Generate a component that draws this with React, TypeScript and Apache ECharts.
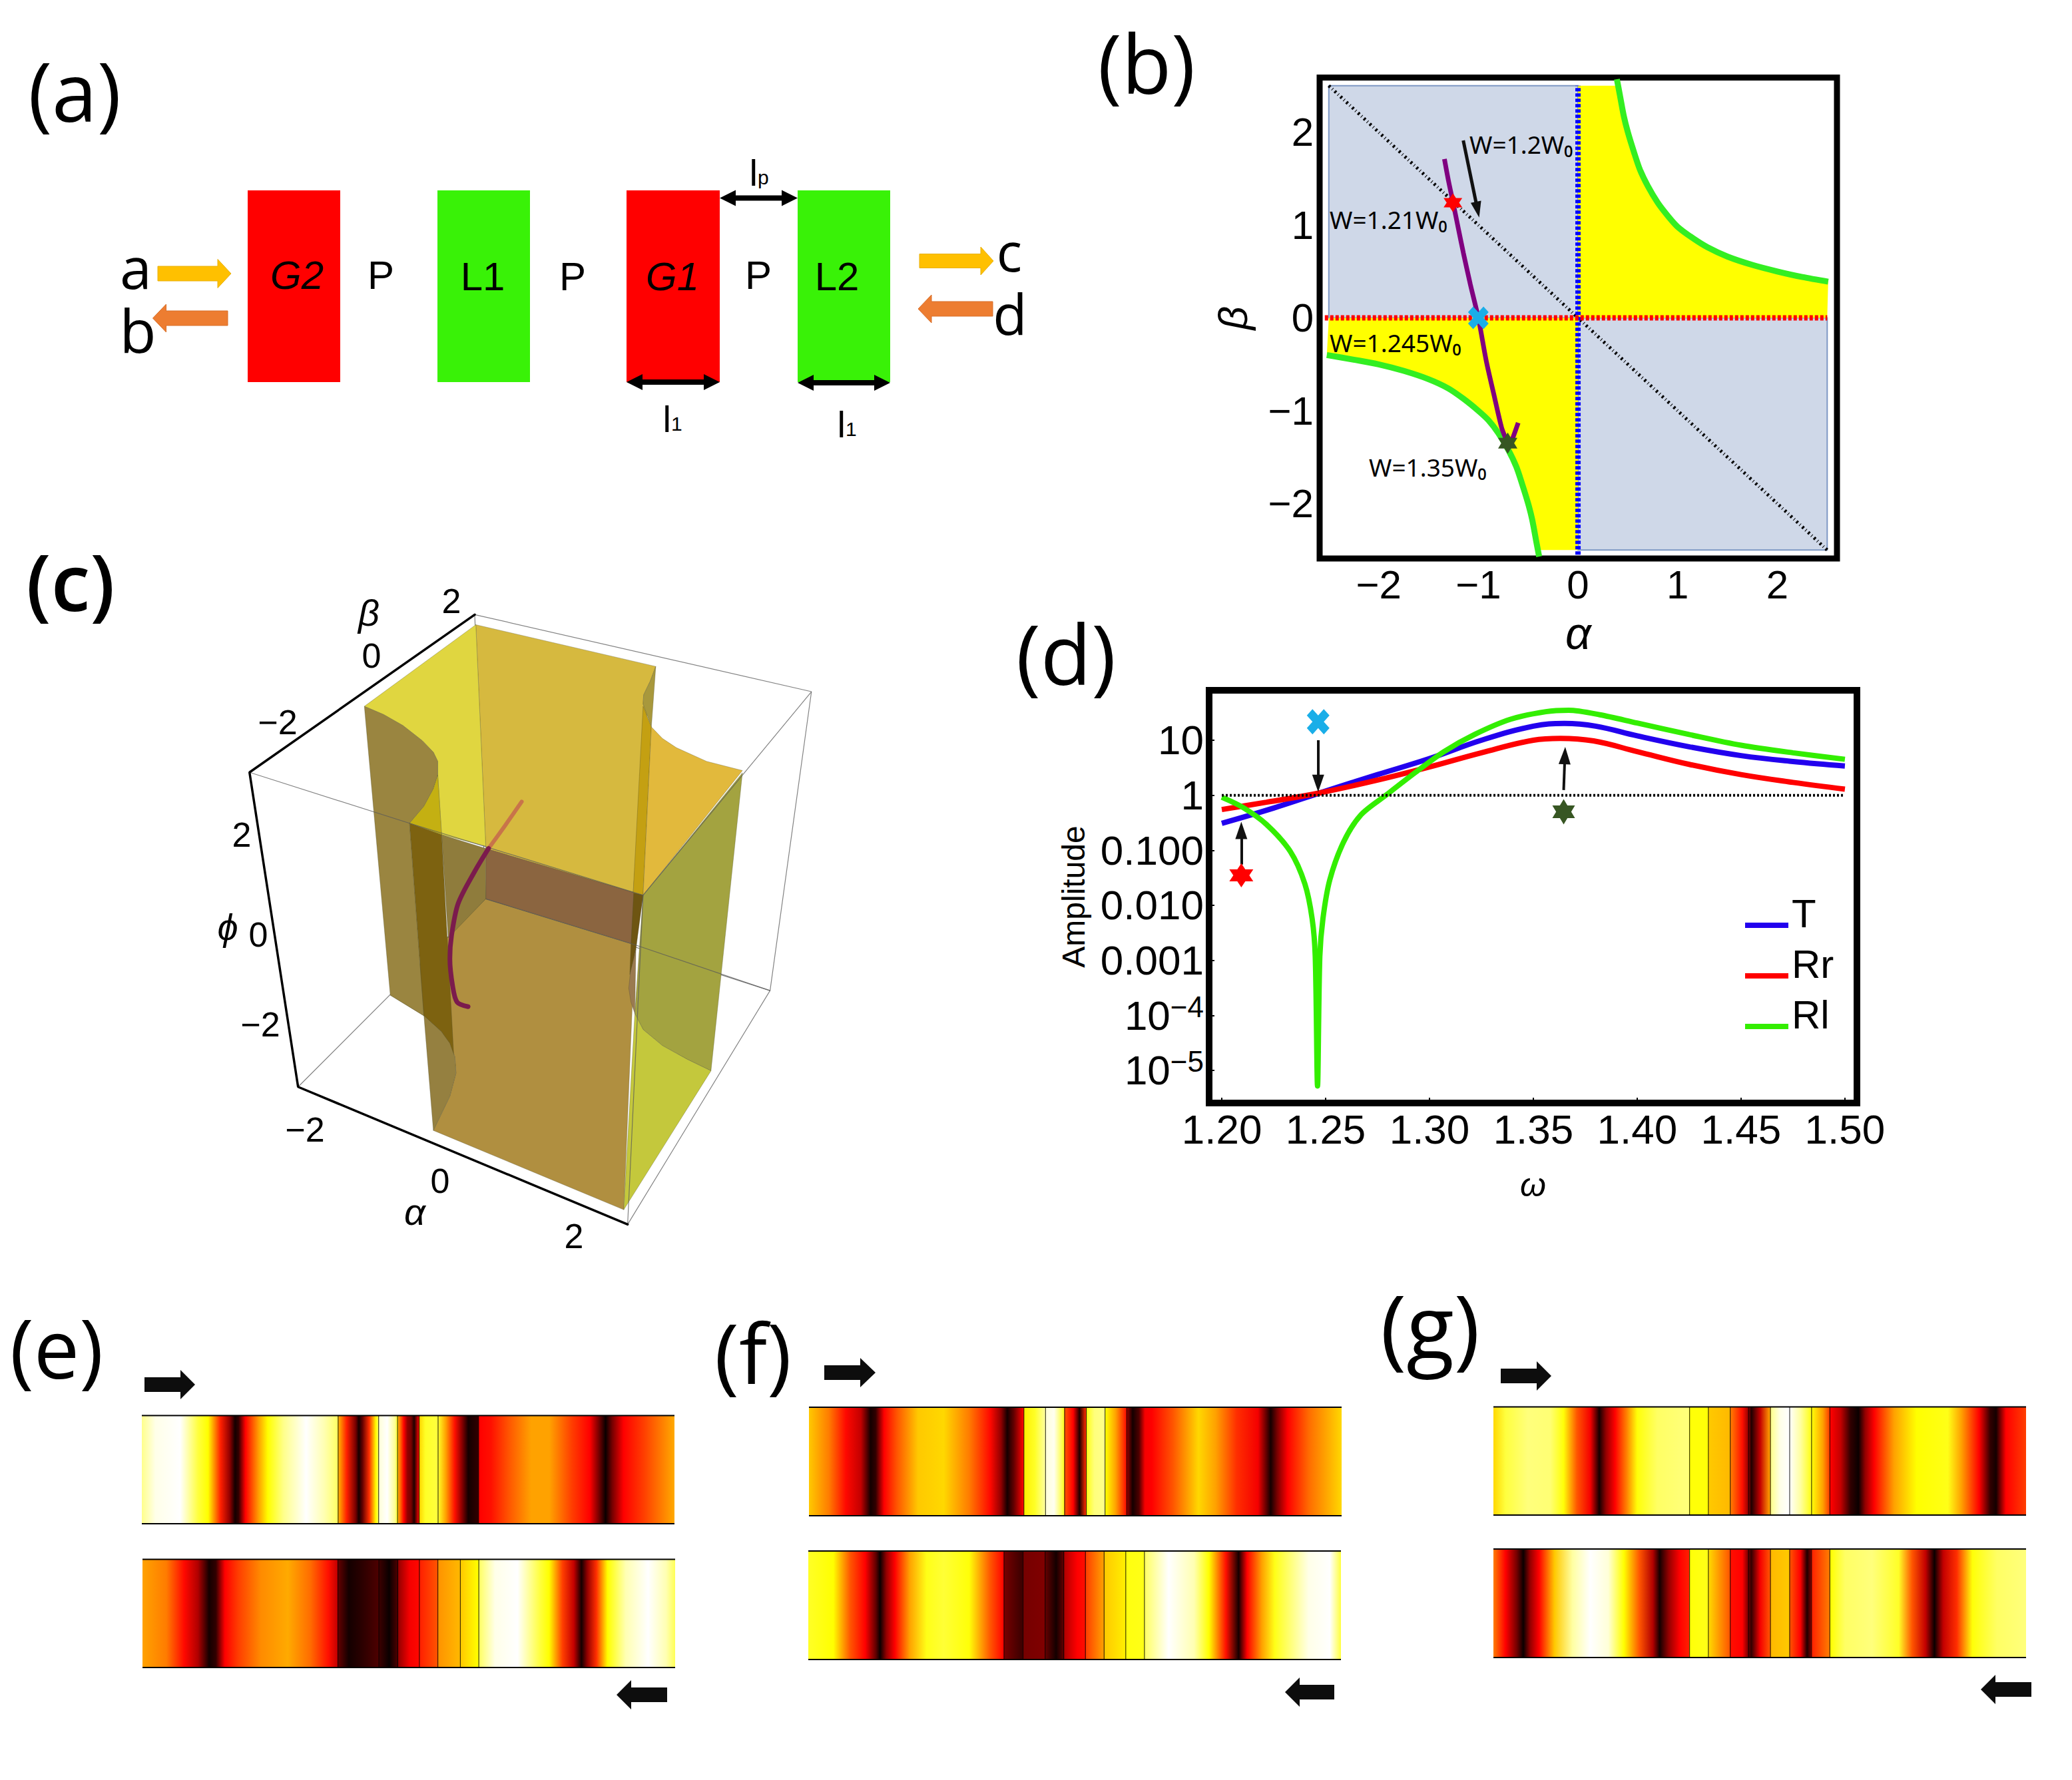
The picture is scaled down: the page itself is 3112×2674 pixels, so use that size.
import React, { useEffect, useRef } from "react";
import * as echarts from "echarts";

const W = 3112;
const H = 2674;
const SANS = "'Liberation Sans'";
const OPEN = "'Open Sans'";

// ---------- panel (b) ----------
const bTicks = [-2, -1, 0, 1, 2];
const bBlueA = [[-2.5, 0], [0, 0], [0, 2.5], [-2.5, 2.5]];
const bBlueB = [[0, 0], [2.5, 0], [2.5, -2.5], [0, -2.5]];
const bCurveQ1 = [[0.39, 2.57], [0.42, 2.4], [0.46, 2.17], [0.5, 2], [0.56, 1.79], [0.62, 1.6], [0.7, 1.42], [0.8, 1.24], [0.9, 1.1], [1, 0.98], [1.15, 0.86], [1.3, 0.76], [1.5, 0.66], [1.75, 0.57], [2, 0.5], [2.25, 0.44], [2.51, 0.39]];
const bCurveQ3 = [[-2.52, -0.4], [-2.25, -0.45], [-2, -0.5], [-1.75, -0.57], [-1.5, -0.66], [-1.3, -0.76], [-1.15, -0.87], [-1, -1], [-0.9, -1.1], [-0.8, -1.24], [-0.7, -1.42], [-0.62, -1.6], [-0.56, -1.79], [-0.5, -2], [-0.46, -2.17], [-0.42, -2.4], [-0.39, -2.57]];
const bYellowQ1 = [[0, 0], [0, 2.5], [0.41, 2.5], ...bCurveQ1.slice(2), [2.5, 0]];
const bYellowQ3 = [[0, 0], [0, -2.5], [-0.41, -2.5], ...bCurveQ3.slice(0, -2).reverse(), [-2.5, 0]];
const bDiagonal = [[-2.5, 2.5], [2.5, -2.5]];
const bVertical = [[0, -2.55], [0, 2.5]];
const bHorizontal = [[-2.54, 0], [2.5, 0]];
const bTrajectory = [[-1.34, 1.71], [-1.3, 1.48], [-1.253, 1.24], [-1.2, 0.96], [-1.15, 0.7], [-1.08, 0.36], [-1, 0], [-0.92, -0.466], [-0.844, -0.825], [-0.767, -1.18], [-0.726, -1.296], [-0.69, -1.386], [-0.655, -1.296], [-0.6, -1.13]];
const bRedStar = [[-1.255, 1.24]];
const bCyanCross = [[-1, 0]];
const bGreenStar = [[-0.705, -1.35]];
const bArrow = [[-1.151, 1.91], [-1.008, 1.166]];

// ---------- panel (d) ----------
const dLegend = ["T", "Rr", "Rl"];
const dT = [[1.2, 0.309], [1.225, 0.586], [1.25, 1.19], [1.275, 2.37], [1.3, 4.64], [1.325, 10], [1.35, 18], [1.365, 20.2], [1.38, 18], [1.4, 12], [1.425, 7.6], [1.45, 5.25], [1.475, 4.1], [1.5, 3.4]];
const dRr = [[1.2, 0.55], [1.2215, 0.746], [1.247, 1.1], [1.276, 1.92], [1.3, 3.26], [1.325, 5.9], [1.35, 10], [1.363, 10.8], [1.379, 9.7], [1.4, 6.2], [1.425, 3.64], [1.45, 2.37], [1.475, 1.71], [1.5, 1.29]];
const dRl = [[1.2, 0.92], [1.21, 0.605], [1.2215, 0.295], [1.233, 0.095], [1.24, 0.0245], [1.2435, 0.0057], [1.245, 0.00117], [1.2461, 0.0000052], [1.2472, 0.00117], [1.2487, 0.0057], [1.252, 0.029], [1.2587, 0.143], [1.267, 0.44], [1.279, 1], [1.293, 2.56], [1.307, 6.2], [1.3217, 12.7], [1.339, 24], [1.356, 33], [1.367, 35], [1.382, 29], [1.4, 20.5], [1.425, 12.7], [1.45, 8.1], [1.475, 5.9], [1.5, 4.5]];
const dUnity = [[1.2, 1], [1.5, 1]];
const dRedStar = [[1.2094, 0.035]];
const dCyanCross = [[1.2464, 21.6]];
const dGreenStar = [[1.3646, 0.5]];
const dRedArrow = [[1.2094, 0.055], [1.2094, 0.23]];
const dCyanArrow = [[1.2464, 10], [1.2464, 1.64]];
const dGreenArrow = [[1.3646, 1.24], [1.3652, 5.25]];
const dAxisLabels: Record<string, string> = { "1": "10", "0": "1", "-1": "0.100", "-2": "0.010", "-3": "0.001", "-4": "{b|10}{s|−4}", "-5": "{b|10}{s|−5}" };

// ---------- panel (c): surfaces in the plane of the picture ----------
const cWireBack = [
  [[860, 150], [1470, 318]],
  [[860, 150], [880, 770]],
  [[540, 1180], [880, 770], [1395, 970], [1470, 318]],
];
const cWireFront = [
  [[452, 494], [742, 605], [1165, 762], [1470, 318]],
  [[1395, 970], [1137, 1480], [1165, 762]],
  [[880, 770], [1150, 870], [1395, 970]],
];
const cLeftEdge = [[660, 350], [695, 368], [730, 392], [765, 425], [785, 450], [793, 470], [793, 500], [785, 530], [768, 568], [742, 605]];
const cLowEdge = [[768, 1025], [800, 1060], [815, 1085], [824, 1115], [826, 1150], [815, 1200], [785, 1275]];
const cRightEdge = [[1180, 395], [1200, 420], [1225, 440], [1280, 470], [1345, 490]];
const cRightLow = [[1150, 1020], [1165, 1055], [1200, 1090], [1245, 1120], [1288, 1145]];
const cFloorBack = [[707, 980], [880, 770], [1150, 870], [1130, 1448], ...cLowEdge.slice().reverse()];
const cWallBack = [[862, 172], [1188, 263], [1178, 295], [1166, 325], [1165, 345], [1172, 365], [1147, 757], [880, 660]];
const cBrown = [[880, 660], [1165, 762], [1150, 870], [880, 770]];
const cTopLeft = [[862, 172], [880, 655], [800, 630], [793, 500], ...cLeftEdge.slice(0, 7).reverse()];
const cWedge = [[793, 500], [800, 630], [742, 605], [768, 568], [785, 530]];
const cWallLeft = [...cLeftEdge, [768, 1025], [707, 980]];
const cWallMid = [[800, 630], [880, 660], [880, 770], [812, 855]];
const cDarkLeft = [[742, 605], [800, 630], [822, 1112], [800, 1060], [768, 1025]];
const cLowLeft = cLowEdge;
const cSliver = [[1188, 263], [1180, 395], [1165, 345], [1166, 325], [1178, 295]];
const cStripRight = [[1165, 350], [1180, 395], [1165, 762], [1147, 757]];
const cTopRight = [...cRightEdge, [1165, 762]];
const cWallRight = [[1345, 495], [1165, 762], ...cRightLow];
const cFloorRight = [...cRightLow, [1130, 1448]];
const cDarkRight = [[1148, 757], [1165, 762], [1152, 880], [1141, 935], [1143, 870]];
const cCurl = [[1152, 880], [1142, 930], [1139, 965], [1143, 995], [1150, 1020]];
const cPolygons = [cFloorBack, cWallBack, cBrown, cTopLeft, cWallLeft, cWallMid, cWedge, cDarkLeft, cLowLeft, cSliver, cStripRight, cTopRight, cWallRight, cFloorRight, cDarkRight, cCurl];
const cFills = ["#B08F40", "#D6B93F", "#8B6540", "#E0D640", "#9A8540", "#8F7C3C", "#C4B012", "#7D6210", "#958040", "#A8983C", "#C4A012", "#E2B93C", "#A3A340", "#C4C83C", "#6E5512", "#9A7A50"];
const cPathUpper = [[945, 558], [915, 610], [885, 660]];
const cPathLower = [[885, 660], [860, 710], [830, 780], [818, 850], [815, 900], [820, 960], [828, 995], [848, 1005]];
const cAxes = [[860, 150], [452, 494], [540, 1180], [1137, 1480]];

// ---------- panels (e), (f), (g): position along strip, hot-scale intensity ----------
const eTop = [[315, .85], [345, .97], [400, 1], [440, .75], [462, .67], [490, .38], [510, .15], [522, .02], [530, .05], [545, .33], [575, .55], [595, .67], [630, .85], [680, 1], [720, .9], [750, .8], [751, .58], [770, .38], [790, .12], [797, .02], [805, .1], [820, .4], [835, .67], [841, .8], [842, .95], [860, 1], [878, .85], [883, .7], [885, .55], [897, .33], [905, .15], [913, .12], [920, .03], [930, .25], [932, .62], [945, .72], [972, .75], [973, .72], [990, .55], [1010, .36], [1025, .15], [1040, .02], [1062, .05], [1064, .28], [1090, .36], [1130, .45], [1180, .55], [1220, .55], [1270, .42], [1310, .33], [1330, .12], [1345, .01], [1360, .12], [1385, .33], [1430, .42], [1498, .56]];
const eBot = [[317, .55], [370, .5], [410, .35], [440, .18], [465, .02], [480, .05], [500, .33], [530, .42], [580, .52], [640, .56], [690, .48], [730, .36], [750, .2], [752, .1], [775, .02], [800, .04], [842, .08], [843, .06], [865, .01], [884, .08], [885, .15], [910, .25], [932, .35], [933, .38], [973, .45], [974, .53], [1023, .58], [1024, .6], [1063, .67], [1065, .8], [1100, .97], [1150, 1], [1200, .75], [1220, .67], [1250, .42], [1275, .2], [1292, .02], [1305, .15], [1325, .4], [1350, .67], [1390, .9], [1440, 1], [1480, .9], [1500, .78]];
const fTop = [[243, .6], [290, .5], [330, .35], [365, .2], [388, .02], [400, .05], [420, .33], [450, .45], [500, .6], [560, .62], [620, .5], [670, .35], [695, .15], [710, .02], [725, .1], [748, .33], [750, .65], [775, .72], [800, .88], [801, .95], [820, .98], [843, .72], [845, .45], [865, .33], [880, .03], [895, .4], [897, .7], [915, .83], [940, .85], [941, .67], [965, .55], [990, .36], [992, .15], [1005, .02], [1020, .08], [1034, .25], [1050, .33], [1100, .45], [1160, .62], [1200, .55], [1250, .4], [1300, .25], [1330, .02], [1345, .12], [1370, .33], [1420, .48], [1497, .62]];
const fBot = [[241, .72], [300, .67], [340, .45], [375, .3], [400, .1], [410, .01], [425, .15], [445, .33], [480, .55], [520, .7], [560, .74], [620, .68], [670, .45], [702, .33], [703, .12], [745, .06], [748, .12], [799, .13], [800, .1], [825, .02], [843, .1], [844, .18], [875, .33], [894, .36], [895, .42], [938, .55], [939, .6], [989, .65], [990, .69], [1033, .7], [1034, .8], [1090, 1], [1150, .9], [1185, .67], [1225, .36], [1255, .02], [1275, .3], [1310, .55], [1340, .7], [1420, .97], [1470, 1], [1496, .75]];
const gTop = [[273, .62], [300, .75], [350, .83], [400, .82], [430, .68], [460, .45], [490, .25], [510, .02], [525, .15], [545, .33], [570, .5], [595, .68], [640, .8], [710, .83], [712, .68], [753, .68], [755, .6], [802, .58], [804, .5], [830, .36], [844, .15], [850, .03], [870, .2], [892, .55], [894, .85], [915, .97], [935, 1], [960, .88], [984, .7], [985, .68], [1010, .55], [1025, .42], [1027, .33], [1050, .2], [1072, .05], [1090, .01], [1105, .15], [1125, .33], [1170, .55], [1220, .67], [1290, .7], [1320, .55], [1360, .33], [1385, .05], [1398, .02], [1420, .33], [1465, .42]];
const gBot = [[273, .5], [300, .33], [325, .12], [340, .01], [355, .15], [375, .33], [410, .6], [450, .88], [490, 1], [530, .95], [565, .67], [600, .45], [630, .18], [645, .02], [665, .15], [690, .33], [711, .38], [712, .68], [753, .7], [755, .62], [802, .45], [804, .36], [830, .33], [850, .05], [870, .25], [892, .45], [894, .58], [935, .6], [936, .45], [960, .3], [975, .03], [984, .12], [985, .38], [1025, .5], [1027, .67], [1060, .8], [1120, .83], [1180, .72], [1210, .45], [1240, .2], [1260, .01], [1280, .2], [1310, .4], [1345, .68], [1400, .8], [1465, .83]];
const eTopDiv = [751, 841, 883, 931, 973, 1063];
const eBotDiv = [751, 842, 884, 932, 973, 1023, 1064];
const fTopDiv = [749, 800, 845, 896, 940, 991];
const fBotDiv = [702, 747, 799, 843, 894, 938, 989, 1033];
const gTopDiv = [712, 754, 803, 844, 893, 936, 985, 1026];
const gBotDiv = [712, 754, 803, 844, 893, 936, 985, 1026];

const STAR = "path://M0,-10 L2.89,-5 L8.66,-5 L5.77,0 L8.66,5 L2.89,5 L0,10 L-2.89,5 L-8.66,5 L-5.77,0 L-8.66,-5 L-2.89,-5 Z";
const CROSS = "path://M-5,-10 L0,-5 L5,-10 L10,-5 L5,0 L10,5 L5,10 L0,5 L-5,10 L-10,5 L-5,0 L-10,-5 Z";

function hot(v: number) {
  const r = Math.min(1, v / 0.26);
  const g = Math.max(0, Math.min(1, (v - 0.34) / 0.33));
  const b = Math.max(0, Math.min(1, (v - 0.67) / 0.33));
  return `rgb(${Math.round(r * 255)},${Math.round(g * 255)},${Math.round(b * 255)})`;
}

function blockArrow(x0: number, x1: number, yc: number, shaft: number, head: number, headLen: number, fill: string, stroke?: string) {
  const dir = x1 > x0 ? 1 : -1;
  const b = x1 - dir * headLen;
  return {
    type: "polygon",
    shape: { points: [[x0, yc - shaft / 2], [b, yc - shaft / 2], [b, yc - head / 2], [x1, yc], [b, yc + head / 2], [b, yc + shaft / 2], [x0, yc + shaft / 2]] },
    style: { fill, stroke: stroke || undefined, lineWidth: stroke ? 1 : 0 },
  };
}
function doubleArrow(x0: number, x1: number, yc: number) {
  const h = 24, s = 8, hh = 24;
  return {
    type: "polygon",
    shape: { points: [[x0, yc], [x0 + h, yc - hh / 2], [x0 + h, yc - s / 2], [x1 - h, yc - s / 2], [x1 - h, yc - hh / 2], [x1, yc], [x1 - h, yc + hh / 2], [x1 - h, yc + s / 2], [x0 + h, yc + s / 2], [x0 + h, yc + hh / 2]] },
    style: { fill: "#000" },
  };
}
function txt(text: string, x: number, y: number, fontSize: number, extra: any = {}) {
  const { rich, fill, ...rest } = extra;
  return {
    type: "text",
    x, y,
    style: { text, fontSize, fontFamily: SANS, fill: fill || "#000", align: "center", verticalAlign: "middle", rich, ...rest },
  };
}

function buildOption() {
  const grid: any[] = [];
  const xAxis: any[] = [];
  const yAxis: any[] = [];
  const series: any[] = [];

  // ---- (b)
  grid.push({ left: 1982, top: 116.5, width: 777, height: 722.5, show: true, borderColor: "#000", borderWidth: 9, backgroundColor: "transparent" });
  const bAxisLabel = {
    customValues: bTicks, fontFamily: SANS, fontSize: 60, color: "#000", margin: 9,
    formatter: (v: number) => String(v).replace("-", "−"),
  };
  const bTick = { customValues: bTicks, inside: true, length: 9, lineStyle: { color: "#000", width: 3 } };
  xAxis.push({
    gridIndex: 0, type: "value", min: -2.592, max: 2.598, axisLine: { show: false }, splitLine: { show: false },
    axisLabel: bAxisLabel, axisTick: bTick,
    name: "α", nameLocation: "middle", nameGap: 78,
    nameTextStyle: { fontFamily: SANS, fontStyle: "italic", fontSize: 68, color: "#000" },
  });
  yAxis.push({
    gridIndex: 0, type: "value", min: -2.591, max: 2.588, axisLine: { show: false }, splitLine: { show: false },
    axisLabel: bAxisLabel, axisTick: bTick,
    name: "β", nameLocation: "middle", nameGap: 100, nameRotate: 90,
    nameTextStyle: { fontFamily: SANS, fontStyle: "italic", fontSize: 62, color: "#000" },
  });
  const bRegions = [bBlueA, bBlueB, bYellowQ1, bYellowQ3];
  const bRegionFills = ["#CFD8E8", "#CFD8E8", "#FFFF00", "#FFFF00"];
  series.push({
    type: "custom", xAxisIndex: 0, yAxisIndex: 0, clip: true, silent: true,
    data: bRegions.map((r, i) => [r[0][0], r[0][1], i]),
    renderItem: (p: any, api: any) => ({
      type: "polygon",
      shape: { points: bRegions[p.dataIndex].map((c) => api.coord(c)) },
      style: { fill: bRegionFills[p.dataIndex], stroke: "#7E98C4", lineWidth: p.dataIndex < 2 ? 2 : 0 },
    }),
  });
  const bLine = (data: any, color: string, width: number, type: any = "solid", z = 3) => ({
    type: "line", xAxisIndex: 0, yAxisIndex: 0, data, showSymbol: false, symbol: "none", silent: true, z,
    lineStyle: { color, width, type, cap: "butt" },
  });
  series.push(bLine(bDiagonal, "#000", 5, [3, 4, 1, 4]));
  series.push(bLine(bVertical, "#0000FF", 8, [5, 3]));
  series.push(bLine(bHorizontal, "#FF0000", 8, [5, 3]));
  series.push({ ...bLine(bCurveQ1, "#33EE22", 9), smooth: 0.3 });
  series.push({ ...bLine(bCurveQ3, "#33EE22", 9), smooth: 0.3 });
  series.push({ ...bLine(bTrajectory, "#800080", 7, "solid", 4), smooth: 0.3 });
  series.push({
    ...bLine(bArrow, "rgba(0,0,0,0)", 0, "solid", 4),
    markLine: {
      silent: true, symbol: ["none", "triangle"], symbolSize: [16, 24], label: { show: false },
      lineStyle: { color: "#111", width: 5, type: "solid" },
      data: [[{ coord: bArrow[0] }, { coord: bArrow[1] }]],
    },
  });
  const marker = (x: number, y: number, data: any, symbol: string, size: any, color: string) => ({
    type: "scatter", xAxisIndex: x, yAxisIndex: y, data, symbol, symbolSize: size, silent: true, z: 6,
    itemStyle: { color, opacity: 1 },
  });
  series.push(marker(0, 0, bRedStar, STAR, [28, 28], "#FF0000"));
  series.push(marker(0, 0, bCyanCross, CROSS, [31, 34], "#1AAEE8"));
  series.push(marker(0, 0, bGreenStar, STAR, [29, 32], "#375623"));

  // ---- (d)
  grid.push({ left: 1816, top: 1037, width: 973, height: 620, show: true, borderColor: "#000", borderWidth: 10, backgroundColor: "transparent" });
  xAxis.push({
    gridIndex: 1, type: "value", min: 1.1939, max: 1.5058, axisLine: { show: false }, splitLine: { show: false },
    axisLabel: {
      customValues: [1.2, 1.25, 1.3, 1.35, 1.4, 1.45, 1.5], fontFamily: SANS, fontSize: 62, color: "#000", margin: 8,
      formatter: (v: number) => v.toFixed(2),
    },
    axisTick: { customValues: [1.2, 1.25, 1.3, 1.35, 1.4, 1.45, 1.5], inside: true, length: 8, lineStyle: { color: "#000", width: 2 } },
    name: "ω", nameLocation: "middle", nameGap: 98,
    nameTextStyle: { fontFamily: SANS, fontStyle: "italic", fontSize: 50, color: "#000" },
  });
  yAxis.push({
    gridIndex: 1, type: "log", logBase: 10, min: 2.55e-6, max: 80.7, axisLine: { show: false }, splitLine: { show: false },
    minorTick: { show: false },
    axisLabel: {
      fontFamily: SANS, fontSize: 62, color: "#000", margin: 8, showMinLabel: false, showMaxLabel: false,
      rich: { b: { fontFamily: SANS, fontSize: 62, color: "#000" }, s: { fontFamily: SANS, fontSize: 44, color: "#000", padding: [0, 0, 26, 0] } },
      formatter: (v: number) => {
        const k = String(Math.round(Math.log10(v)));
        return Math.abs(Math.log10(v) - Math.round(Math.log10(v))) < 1e-6 ? dAxisLabels[k] || "" : "";
      },
    },
    axisTick: { inside: true, length: 8, lineStyle: { color: "#000", width: 2 } },
    name: "Amplitude", nameLocation: "middle", nameGap: 180, nameRotate: 90,
    nameTextStyle: { fontFamily: SANS, fontSize: 48, color: "#000" },
  });
  const dLine = (name: string, data: any, color: string, smooth: number) => ({
    name, type: "line", xAxisIndex: 1, yAxisIndex: 1, data, showSymbol: false, symbol: "none", silent: true, z: 3,
    smooth,
    lineStyle: { color, width: 8 }, itemStyle: { color },
  });
  series.push(dLine(dLegend[0], dT, "#2200EE", 0.4));
  series.push(dLine(dLegend[1], dRr, "#FF0000", 0.4));
  series.push(dLine(dLegend[2], dRl, "#33EE00", 0.3));
  series.push({
    type: "line", xAxisIndex: 1, yAxisIndex: 1, data: dUnity, showSymbol: false, symbol: "none", silent: true, z: 4,
    lineStyle: { color: "#000", width: 4, type: [3, 3], cap: "butt" },
  });
  const dArrow = (pair: number[][]) => [{ coord: pair[0] }, { coord: pair[1] }];
  series.push({
    ...marker(1, 1, dRedStar, STAR, [36, 36], "#FF0000"),
    markLine: {
      silent: true, symbol: ["none", "triangle"], symbolSize: [18, 26], label: { show: false },
      lineStyle: { color: "#111", width: 4, type: "solid" },
      data: [dArrow(dRedArrow), dArrow(dCyanArrow), dArrow(dGreenArrow)],
    },
  });
  series.push(marker(1, 1, dCyanCross, CROSS, [34, 38], "#1AAEE8"));
  series.push(marker(1, 1, dGreenStar, STAR, [34, 38], "#375623"));

  // ---- (c)
  grid.push({ left: 0, top: 820, width: 1300, height: 1080, show: false });
  xAxis.push({ gridIndex: 2, type: "value", min: 0, max: 1568, show: false });
  yAxis.push({ gridIndex: 2, type: "value", min: 0, max: 1568, inverse: true, show: false });
  const wires = (list: number[][][], z: number) => ({
    type: "custom", xAxisIndex: 2, yAxisIndex: 2, clip: false, silent: true, z,
    data: list.map((w, i) => [w[0][0], w[0][1], i]),
    renderItem: (p: any, api: any) => ({
      type: "polyline",
      shape: { points: list[p.dataIndex].map((c) => api.coord(c)) },
      style: { fill: "none", stroke: "rgba(90,90,90,0.75)", lineWidth: 1.2 },
    }),
  });
  series.push(wires(cWireBack, 1));
  series.push({
    type: "custom", xAxisIndex: 2, yAxisIndex: 2, clip: false, silent: true, z: 2,
    data: cPolygons.map((w, i) => [w[0][0], w[0][1], i]),
    renderItem: (p: any, api: any) => ({
      type: "polygon",
      shape: { points: cPolygons[p.dataIndex].map((c) => api.coord(c)) },
      style: { fill: cFills[p.dataIndex], stroke: "rgba(70,70,40,0.3)", lineWidth: 1 },
    }),
  });
  series.push(wires(cWireFront, 3));
  const cLine = (data: any, color: string, width: number, z = 4, smooth: any = 0.3) => ({
    type: "line", xAxisIndex: 2, yAxisIndex: 2, data, showSymbol: false, symbol: "none", silent: true, z, clip: false, smooth,
    lineStyle: { color, width, cap: "round" },
  });
  series.push(cLine(cPathUpper, "#C8744A", 6));
  series.push(cLine(cPathLower, "#7B1B4D", 7));
  series.push(cLine(cAxes, "#000", 3.5, 4, false));

  // ---- strips
  const strips = [
    { data: eTop, div: eTopDiv, left: 213, top: 2126.5, h: 162.5 },
    { data: eBot, div: eBotDiv, left: 214, top: 2342.5, h: 162.5 },
    { data: fTop, div: fTopDiv, left: 1215, top: 2114, h: 163 },
    { data: fBot, div: fBotDiv, left: 1214, top: 2330, h: 163 },
    { data: gTop, div: gTopDiv, left: 2243, top: 2113.5, h: 162.5 },
    { data: gBot, div: gBotDiv, left: 2243, top: 2327, h: 163 },
  ];
  strips.forEach((s, k) => {
    const gi = 3 + k;
    const p0 = s.data[0][0];
    const p1 = s.data[s.data.length - 1][0];
    grid.push({ left: s.left, top: s.top, width: 800, height: s.h, show: false });
    xAxis.push({ gridIndex: gi, type: "value", min: p0, max: p1, show: false });
    yAxis.push({ gridIndex: gi, type: "value", min: 0, max: 1, show: false });
    const stops = s.data.map(([p, v]) => ({ offset: (p - p0) / (p1 - p0), color: hot(v) }));
    series.push({
      type: "custom", xAxisIndex: gi, yAxisIndex: gi, clip: false, silent: true,
      data: [[p0, 0]],
      renderItem: (_: any, api: any) => {
        const a = api.coord([p0, 1]);
        const b = api.coord([p1, 0]);
        const seg = (x0: number, y0: number, x1: number, y1: number, w: number) => ({
          type: "line", shape: { x1: x0, y1: y0, x2: x1, y2: y1 }, style: { stroke: "#000", lineWidth: w },
        });
        return {
          type: "group",
          children: [
            {
              type: "rect", shape: { x: a[0], y: a[1], width: b[0] - a[0], height: b[1] - a[1] },
              style: { fill: new echarts.graphic.LinearGradient(0, 0, 1, 0, stops) },
            },
            ...s.div.map((d) => {
              const x = api.coord([d, 0])[0];
              return { ...seg(x, a[1], x, b[1], 1), style: { stroke: "rgba(0,0,0,0.75)", lineWidth: 1.2 } };
            }),
            seg(a[0], a[1], b[0], a[1], 2),
            seg(a[0], b[1], b[0], b[1], 2),
          ],
        };
      },
    });
  });

  // ---- overlays
  const panel = (t: string, x: number, y: number, fs: number, weight: any = 400) => ({
    type: "text", x, y, style: { text: t, fontFamily: OPEN, fontSize: fs, fontWeight: weight, fill: "#000", align: "center", verticalAlign: "middle" },
  });
  const hand = { fontFamily: SANS };
  const sub = { rich: { l: { fontFamily: SANS, fontSize: 56, fill: "#000", color: "#000" }, s: { fontFamily: SANS, fontSize: 30, fill: "#000", color: "#000", padding: [14, 0, 0, 0] } } };
  const annotate = (t: string, x: number, y: number) => ({
    type: "text", z: 20, x, y, style: { text: t, fontFamily: "'Noto Sans'", fontSize: 37, fill: "#000", align: "left", verticalAlign: "middle" },
  });
  const elements: any[] = [
    panel("(a)", 112, 136, 122, 500),
    panel("(b)", 1722, 94, 122, 500),
    panel("(c)", 106, 872, 118, 600),
    panel("(d)", 1601, 980, 125, 500),
    panel("(e)", 85, 2024, 122),
    panel("(f)", 1131, 2030, 125),
    panel("(g)", 2148, 1990, 132),
    // (a)
    { type: "rect", shape: { x: 372, y: 286, width: 139, height: 288 }, style: { fill: "#FF0000" } },
    { type: "rect", shape: { x: 657, y: 286, width: 139, height: 288 }, style: { fill: "#39F207" } },
    { type: "rect", shape: { x: 941, y: 286, width: 140, height: 288 }, style: { fill: "#FF0000" } },
    { type: "rect", shape: { x: 1198, y: 286, width: 139, height: 288 }, style: { fill: "#39F207" } },
    txt("G2", 446, 413, 60, { ...hand, fontStyle: "italic" }),
    txt("P", 572, 413, 60, hand),
    txt("L1", 725, 415, 60, hand),
    txt("P", 860, 415, 60, hand),
    txt("G1", 1010, 415, 60, { ...hand, fontStyle: "italic" }),
    txt("P", 1139, 413, 60, hand),
    txt("L2", 1257, 415, 60, hand),
    txt("a", 204, 400, 86, { fontFamily: OPEN }),
    txt("b", 207, 495, 90, { fontFamily: OPEN }),
    txt("c", 1516, 376, 80, { fontFamily: OPEN }),
    txt("d", 1517, 470, 84, { fontFamily: OPEN }),
    blockArrow(237, 347, 411, 22, 43, 20, "#FFC000", "#E8B00A"),
    blockArrow(342, 229.5, 478, 22, 42, 20, "#ED7D31", "#D86E28"),
    blockArrow(1381, 1492, 392, 21, 42, 19, "#FFC000", "#E8B00A"),
    blockArrow(1491, 1379, 464, 22, 42, 20, "#ED7D31", "#D86E28"),
    doubleArrow(1081, 1198, 297.5),
    doubleArrow(941, 1081, 574),
    doubleArrow(1198, 1337, 575),
    txt("{l|l}{s|p}", 1140, 259, 56, sub),
    txt("{l|l}{s|1}", 1010, 629, 56, sub),
    txt("{l|l}{s|1}", 1272, 637, 56, sub),
    // (b)
    annotate("W=1.2W₀", 2207, 216),
    annotate("W=1.21W₀", 1997, 329),
    annotate("W=1.245W₀", 1997, 514),
    annotate("W=1.35W₀", 2056, 701),
    // (c)
    txt("β", 554, 920, 56, { fontStyle: "italic" }),
    txt("2", 678, 903, 52),
    txt("0", 558, 985, 52),
    txt("−2", 417, 1085, 52),
    txt("2", 363, 1254, 52),
    txt("0", 388, 1404, 52),
    txt("ϕ", 342, 1392, 56, { fontStyle: "italic" }),
    txt("−2", 391, 1539, 52),
    txt("−2", 458, 1697, 52),
    txt("0", 661, 1774, 52),
    txt("α", 623, 1820, 56, { fontStyle: "italic" }),
    txt("2", 862, 1857, 52),
    // strip arrows
    blockArrow(217, 293, 2080, 22, 44, 22, "#0D0D0D"),
    blockArrow(1002, 926, 2546, 22, 44, 22, "#0D0D0D"),
    blockArrow(1238, 1315, 2062, 22, 44, 23, "#0D0D0D"),
    blockArrow(2004, 1930, 2542, 22, 44, 22, "#0D0D0D"),
    blockArrow(2254, 2330, 2067, 22, 44, 22, "#0D0D0D"),
    blockArrow(3051, 2975, 2538, 22, 44, 22, "#0D0D0D"),
  ].map((e) => ({ z: 20, ...e }));

  return {
    animation: false,
    backgroundColor: "#fff",
    grid, xAxis, yAxis, series,
    graphic: { elements },
    legend: {
      data: dLegend, orient: "vertical", left: 2616, top: 1337, icon: "rect", itemWidth: 65, itemHeight: 8,
      itemGap: 16, selectedMode: false, inactiveColor: "#000",
      formatter: (name: string) => `{t|${name}}`,
      textStyle: {
        fontFamily: SANS, fontSize: 60, color: "#000",
        rich: { t: { fontFamily: SANS, fontSize: 60, color: "#000", padding: [0, 0, 36, 0] } },
      },
    },
  };
}

export default function App() {
  const ref = useRef<HTMLDivElement>(null);
  useEffect(() => {
    if (!ref.current) return;
    const chart = echarts.init(ref.current, undefined, { renderer: "svg", width: W, height: H });
    chart.setOption(buildOption() as any);
    return () => chart.dispose();
  }, []);
  return <div ref={ref} style={{ position: "fixed", left: 0, top: 0, width: W, height: H, background: "#fff" }} />;
}
